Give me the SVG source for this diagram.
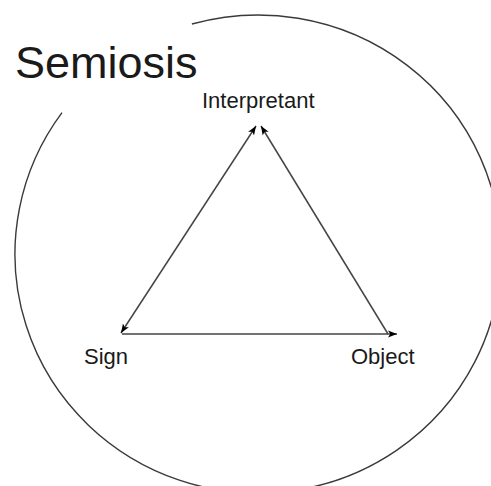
<svg xmlns="http://www.w3.org/2000/svg" width="491" height="486" viewBox="0 0 491 486">
  <style>
    .lbl { font-family: "Liberation Sans", Arial, sans-serif; fill: #1a1a1a; }
    .edge { stroke: #444; stroke-width: 1.5; fill: none; }
    .ring { stroke: #3a3a3a; stroke-width: 1.4; fill: none; }
  </style>
  <defs>
    <marker id="arr" markerUnits="userSpaceOnUse" markerWidth="10" markerHeight="8" refX="9" refY="3.5" orient="auto-start-reverse" viewBox="0 0 10 7">
      <path d="M0,0 L9,3.5 L0,7 L2.2,3.5 z" fill="#000"/>
    </marker>
  </defs>
  <rect width="491" height="486" fill="#fff"/>
  <g id="semiosis-ring">
    <path class="ring" d="M 191.9 24 A 243 239 0 1 1 62 112.7"/>
  </g>
  <g id="title">
    <text class="lbl" x="15" y="78" font-size="45" fill="#111">Semiosis</text>
  </g>
  <g id="connectors">
    <line class="edge" x1="121" y1="333" x2="256" y2="126" marker-start="url(#arr)" marker-end="url(#arr)"/>
    <line class="edge" x1="388" y1="334" x2="261" y2="126" marker-end="url(#arr)"/>
    <line class="edge" x1="122" y1="334" x2="397" y2="334" marker-end="url(#arr)"/>
  </g>
  <g id="node-interpretant">
    <text class="lbl" x="202" y="108" font-size="22">Interpretant</text>
  </g>
  <g id="node-sign">
    <text class="lbl" x="84" y="364" font-size="22">Sign</text>
  </g>
  <g id="node-object">
    <text class="lbl" x="351" y="364" font-size="22">Object</text>
  </g>
</svg>
